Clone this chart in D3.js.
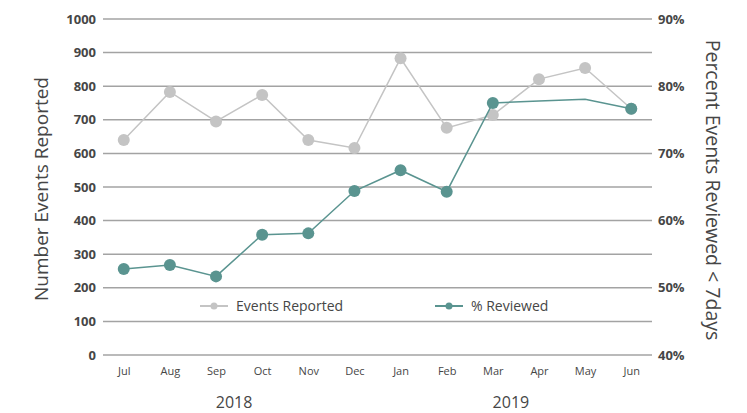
<!DOCTYPE html>
<html>
<head>
<meta charset="utf-8">
<script src="https://cdn.jsdelivr.net/npm/d3@7"></script>
<style>
  body { margin: 0; background: #fff; font-family: "Open Sans", sans-serif; }
  .grid line { stroke: #a3a3a3; stroke-width: 1.5; }
</style>
</head>
<body>
<div id="chart"></div>
<script>
// ===== Data =====
const months = ['Jul', 'Aug', 'Sep', 'Oct', 'Nov', 'Dec', 'Jan', 'Feb', 'Mar', 'Apr', 'May', 'Jun'];
const years = [{ label: '2018', from: 'Jul', to: 'Dec' }, { label: '2019', from: 'Jan', to: 'Jun' }];
const eventsReported = [640, 783, 695, 774, 640, 616, 883, 676, 714, 821, 854, 733];
const pctReviewed = [52.8, 53.4, 51.7, 57.9, 58.1, 64.4, 67.5, 64.3, 77.5, 77.8, 78.05, 76.65];
const reviewedNoMarker = ['Apr', 'May'];
const leftTicks = [0, 100, 200, 300, 400, 500, 600, 700, 800, 900, 1000];
const rightTicks = [40, 50, 60, 70, 80, 90];

const W = 747, H = 413;
const margin = { top: 19, right: 95, bottom: 58, left: 103 };

const svg = d3.select('#chart').append('svg')
  .attr('width', W)
  .attr('height', H);

const x = d3.scalePoint()
  .domain(months)
  .range([margin.left, W - margin.right])
  .padding(0.45);

const yL = d3.scaleLinear().domain([0, 1000]).range([H - margin.bottom, margin.top]);
const yR = d3.scaleLinear().domain([40, 90]).range([H - margin.bottom, margin.top]);

// Gitterlinien
svg.append('g').attr('class', 'grid')
  .selectAll('line')
  .data(leftTicks)
  .enter().append('line')
  .attr('x1', margin.left)
  .attr('x2', W - margin.right)
  .attr('y1', d => yL(d))
  .attr('y2', d => yL(d));

// Achsen (nur Beschriftungen)
const axisL = svg.append('g')
  .attr('transform', `translate(${margin.left},0)`)
  .call(d3.axisLeft(yL).tickValues(leftTicks).tickSize(0).tickPadding(7).tickFormat(d3.format('d')));
const axisR = svg.append('g')
  .attr('transform', `translate(${W - margin.right},0)`)
  .call(d3.axisRight(yR).tickValues(rightTicks).tickSize(0).tickPadding(6).tickFormat(d => d + '%'));
const axisB = svg.append('g')
  .attr('transform', `translate(0,${H - margin.bottom})`)
  .call(d3.axisBottom(x).tickSize(0).tickPadding(12));

[axisL, axisR, axisB].forEach(a => a.select('.domain').remove());
[axisL, axisR].forEach(a => a.selectAll('text')
  .attr('fill', '#464646')
  .style('font-family', '"Open Sans", sans-serif')
  .style('font-size', '13px')
  .style('font-weight', 700));
axisB.selectAll('text')
  .attr('fill', '#464646')
  .style('font-family', '"Open Sans", sans-serif')
  .style('font-size', '11px');

// Jahre
svg.append('g').selectAll('text')
  .data(years)
  .enter().append('text')
  .attr('x', d => (x(d.from) + x(d.to)) / 2 - 5)
  .attr('y', 408)
  .attr('text-anchor', 'middle')
  .attr('fill', '#464646')
  .style('font-size', '16px')
  .text(d => d.label);

// Achsentitel
svg.append('text')
  .attr('transform', `translate(48,189) rotate(-90)`)
  .attr('text-anchor', 'middle')
  .attr('fill', '#464646')
  .style('font-size', '19px')
  .text('Number Events Reported');
svg.append('text')
  .attr('transform', `translate(706,190) rotate(90)`)
  .attr('text-anchor', 'middle')
  .attr('fill', '#464646')
  .style('font-size', '19.5px')
  .text('Percent Events Reviewed < 7days');

// Linien
const grey = '#c4c4c4', teal = '#5a9490';

const lineL = d3.line().x((d, i) => x(months[i])).y(d => yL(d));
const lineR = d3.line().x((d, i) => x(months[i])).y(d => yR(d));

svg.append('path')
  .datum(eventsReported)
  .attr('d', lineL)
  .attr('fill', 'none')
  .attr('stroke', grey)
  .attr('stroke-width', 1.5);

svg.append('g').selectAll('circle')
  .data(eventsReported)
  .enter().append('circle')
  .attr('cx', (d, i) => x(months[i]))
  .attr('cy', d => yL(d))
  .attr('r', 6)
  .attr('fill', grey);

svg.append('path')
  .datum(pctReviewed)
  .attr('d', lineR)
  .attr('fill', 'none')
  .attr('stroke', teal)
  .attr('stroke-width', 1.5);

svg.append('g').selectAll('circle')
  .data(pctReviewed.map((v, i) => ({ m: months[i], v })).filter(d => !reviewedNoMarker.includes(d.m)))
  .enter().append('circle')
  .attr('cx', d => x(d.m))
  .attr('cy', d => yR(d.v))
  .attr('r', 6)
  .attr('fill', teal);

// Legende
const legend = [
  { name: 'Events Reported', color: grey, x: 200 },
  { name: '% Reviewed', color: teal, x: 435 }
];
const lg = svg.append('g').selectAll('g')
  .data(legend)
  .enter().append('g')
  .attr('transform', d => `translate(${d.x},306)`);
lg.append('line')
  .attr('x1', 0).attr('x2', 28)
  .attr('stroke', d => d.color)
  .attr('stroke-width', 2);
lg.append('circle')
  .attr('cx', 14).attr('r', 3.5)
  .attr('fill', d => d.color);
lg.append('text')
  .attr('x', 36)
  .attr('dy', '0.35em')
  .attr('fill', '#464646')
  .style('font-size', '14px')
  .text(d => d.name);
</script>
</body>
</html>
